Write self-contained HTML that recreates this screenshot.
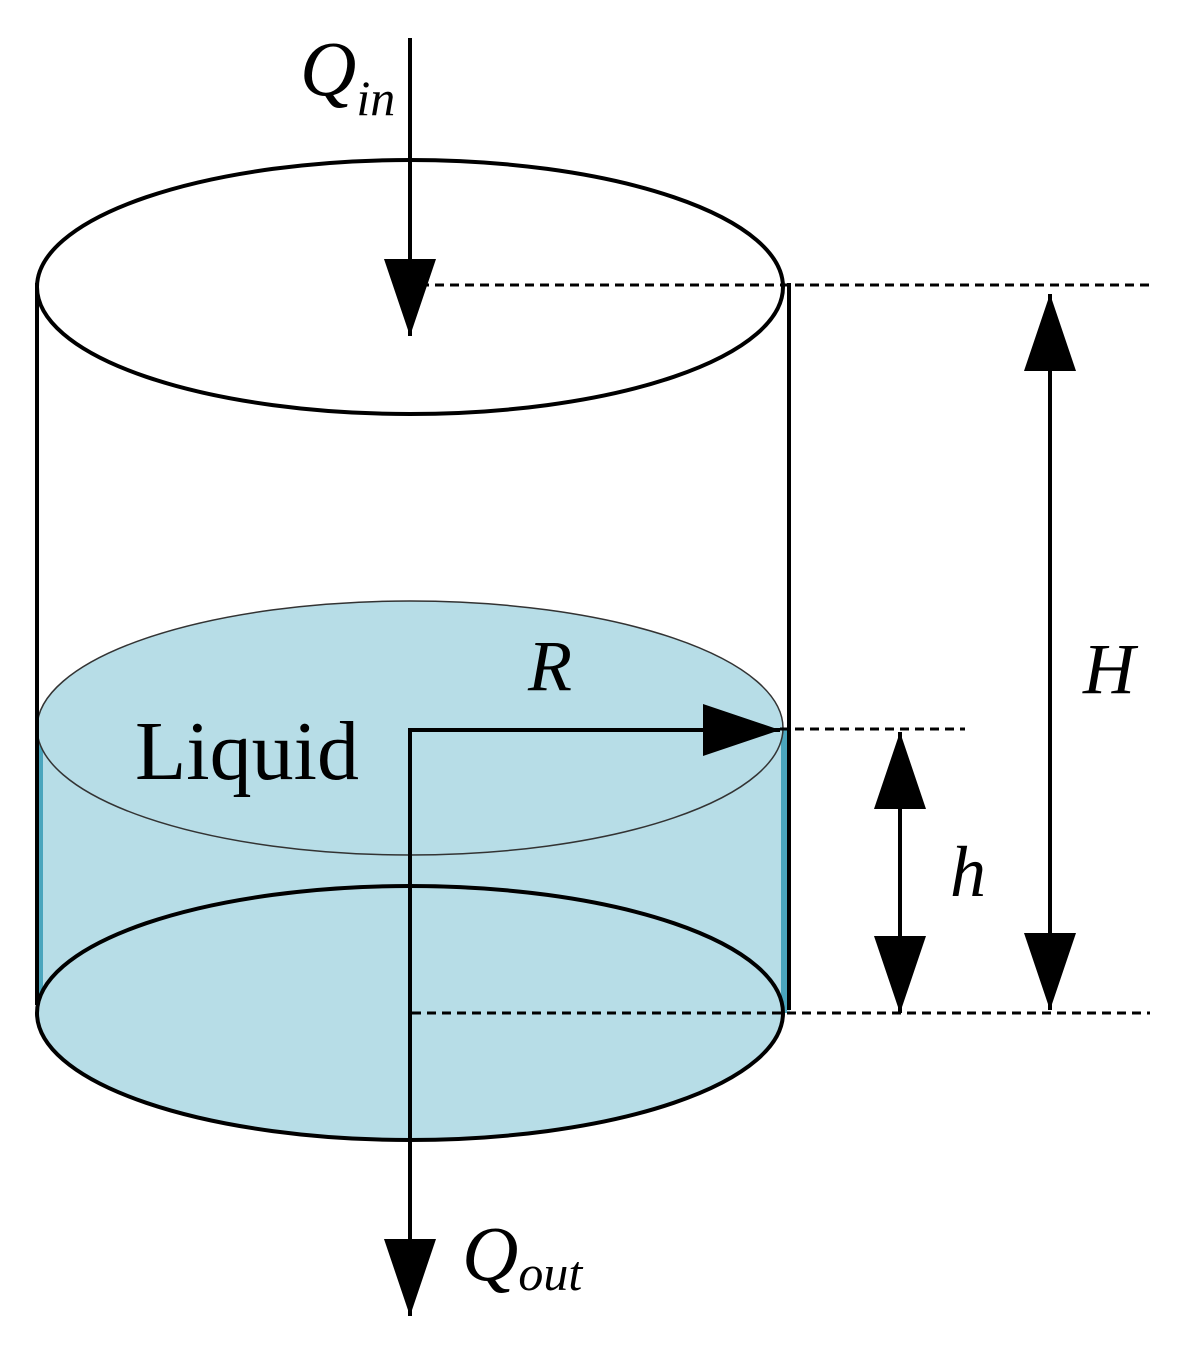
<!DOCTYPE html>
<html><head><style>html,body{margin:0;padding:0;background:#fff}</style></head>
<body>
<svg width="1190" height="1353" viewBox="0 0 1190 1353" xmlns="http://www.w3.org/2000/svg">
<defs>
<marker id="a" viewBox="0 0 77 52" refX="77" refY="26" markerWidth="77" markerHeight="52" markerUnits="userSpaceOnUse" orient="auto"><path d="M0,0 L77,26 L0,52 Z" fill="#000"/></marker>
</defs>
<rect x="37" y="728" width="753" height="285" fill="#b7dde7"/>
<rect x="37" y="728" width="6" height="285" fill="#4aa5bd"/>
<rect x="781" y="728" width="6" height="285" fill="#4aa5bd"/>
<ellipse cx="410" cy="728" rx="373" ry="127" fill="#b7dde7" stroke="#333" stroke-width="1.5"/>
<ellipse cx="410" cy="1013" rx="373" ry="127" fill="#b7dde7" stroke="#000" stroke-width="4"/>
<ellipse cx="410" cy="287" rx="373" ry="127" fill="none" stroke="#000" stroke-width="4"/>
<line x1="37" y1="283" x2="37" y2="1005" stroke="#000" stroke-width="4"/>
<line x1="789" y1="283" x2="789" y2="1010" stroke="#000" stroke-width="4"/>
<g stroke="#000" stroke-width="3" stroke-dasharray="9,6">
<line x1="420" y1="285" x2="1150" y2="285"/>
<line x1="412" y1="1013" x2="1150" y2="1013"/>
<line x1="780" y1="729" x2="965" y2="729"/>
</g>
<g stroke="#000" stroke-width="4" fill="none">
<line x1="410" y1="38" x2="410" y2="336" marker-end="url(#a)"/>
<line x1="1050" y1="650" x2="1050" y2="294" marker-end="url(#a)"/>
<line x1="1050" y1="650" x2="1050" y2="1010" marker-end="url(#a)"/>
<line x1="900" y1="870" x2="900" y2="732" marker-end="url(#a)"/>
<line x1="900" y1="870" x2="900" y2="1013" marker-end="url(#a)"/>
<polyline points="410,1240 410,730 780,730" marker-end="url(#a)"/>
<line x1="410" y1="1000" x2="410" y2="1316" marker-end="url(#a)"/>
</g>
<g font-family="Liberation Serif, serif" fill="#000">
<text x="300" y="95" font-size="78" font-style="italic">Q<tspan font-size="50" dy="20">in</tspan></text>
<text x="135" y="779" font-size="84">Liquid</text>
<text x="528" y="690" font-size="72" font-style="italic">R</text>
<text x="1083" y="693" font-size="72" font-style="italic">H</text>
<text x="950" y="896" font-size="72" font-style="italic">h</text>
<text x="462" y="1280" font-size="78" font-style="italic">Q<tspan font-size="50" dy="10">out</tspan></text>
</g>
</svg>
</body></html>
